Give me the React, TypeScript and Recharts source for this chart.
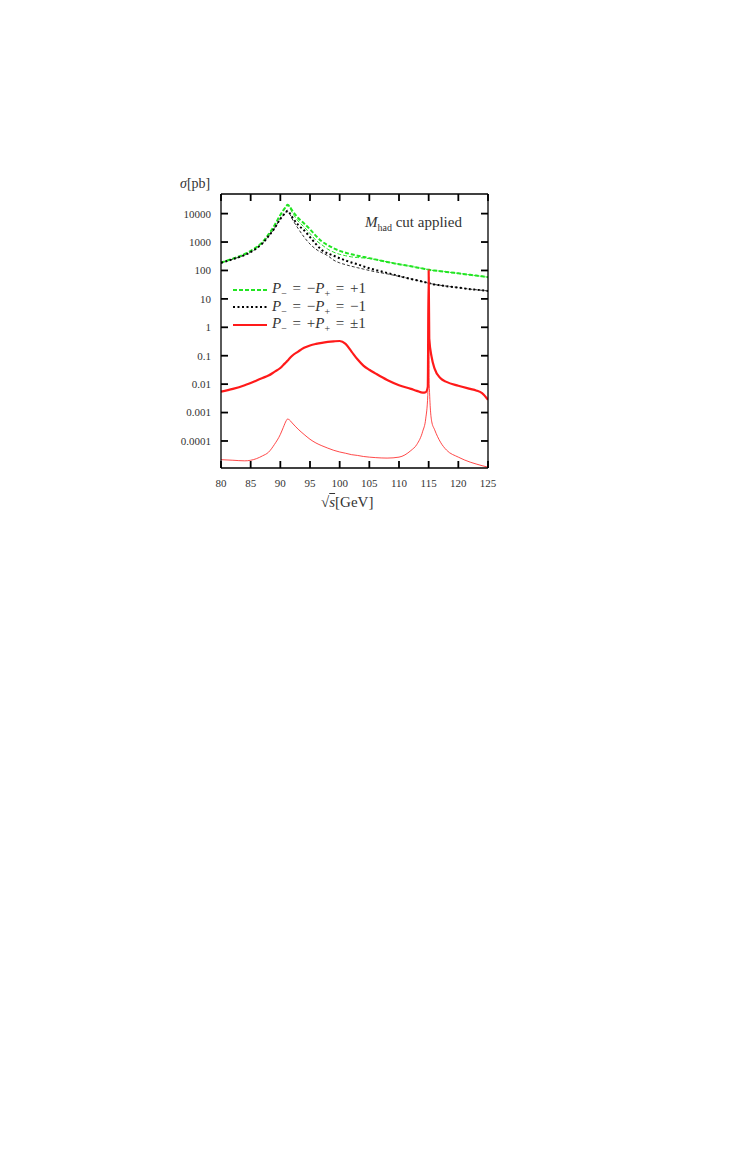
import { LineChart, Line, XAxis, YAxis, Legend } from 'recharts';

// sqrt(s) in GeV
const ENERGY = [80, 82, 84, 86, 87, 88, 89, 90, 90.5, 91, 91.2, 91.5, 92, 93, 94, 95, 96, 97, 98, 99, 100, 101, 102, 103, 104, 105, 106, 108, 110, 112, 113, 114, 114.5, 114.85, 115, 115.1, 115.5, 116, 117, 118, 120, 122, 123, 124, 125];

// P- = -P+ = +1, with / without cut
const GREEN_THICK = [190, 260, 380, 660, 1000, 1850, 3800, 9000, 13000, 18000, 20500, 18500, 13000, 7000, 4500, 2800, 1650, 1050, 780, 600, 490, 420, 370, 330, 300, 272, 245, 200, 165, 140, 128, 117, 112, 108, 106, 105, 102, 99, 94, 89, 79, 70, 66, 62, 58];
const GREEN_THIN = [190, 260, 380, 660, 1000, 1850, 3800, 9000, 13000, 18000, 19500, 17500, 11000, 5500, 3400, 2000, 1150, 800, 560, 440, 370, 330, 300, 285, 275, 262, 243, 200, 165, 140, 128, 117, 112, 108, 106, 105, 102, 99, 94, 89, 79, 70, 66, 62, 58];

// P- = -P+ = -1
const BLACK_THICK = [185, 250, 350, 600, 900, 1600, 3000, 6500, 8800, 11500, 12500, 11000, 7500, 4000, 2600, 1500, 850, 520, 400, 330, 270, 225, 190, 165, 140, 120, 105, 82, 64, 50, 45, 40, 38, 36, 35, 35, 34, 32, 30, 28, 25, 22, 21, 20, 19];
const BLACK_THIN = [185, 250, 350, 600, 900, 1600, 3000, 6500, 8800, 11500, 12000, 10500, 6500, 3000, 1500, 850, 560, 420, 330, 230, 185, 160, 140, 125, 112, 100, 90, 76, 62, 50, 45, 40, 38, 36, 35, 35, 34, 32, 30, 28, 25, 22, 21, 20, 19];

// P- = +P+ = +-1
const RED_THICK = [0.0054, 0.0068, 0.0092, 0.0135, 0.0165, 0.02, 0.027, 0.037, 0.047, 0.06, 0.066, 0.078, 0.1, 0.14, 0.19, 0.23, 0.26, 0.285, 0.305, 0.32, 0.33, 0.26, 0.14, 0.075, 0.045, 0.032, 0.024, 0.014, 0.0092, 0.0068, 0.0058, 0.005, 0.0052, 0.008, 100, 0.4, 0.09, 0.035, 0.016, 0.012, 0.0088, 0.0068, 0.006, 0.0048, 0.0028];
const RED_THIN = [2.2e-5, 2.1e-5, 2.0e-5, 2.4e-5, 3e-5, 4e-5, 7.5e-5, 1.7e-4, 3e-4, 5.2e-4, 5.9e-4, 5.6e-4, 4.3e-4, 2.6e-4, 1.7e-4, 1.15e-4, 8.5e-5, 6.8e-5, 5.6e-5, 4.7e-5, 4.1e-5, 3.7e-5, 3.3e-5, 3.1e-5, 2.85e-5, 2.7e-5, 2.6e-5, 2.5e-5, 2.7e-5, 4.6e-5, 7.5e-5, 2.2e-4, 6e-4, 4e-3, 60, 0.01, 5e-4, 2.5e-4, 9e-5, 4.8e-5, 2.7e-5, 1.8e-5, 1.55e-5, 1.35e-5, 1.2e-5];

const X_TICKS = [80, 85, 90, 95, 100, 105, 110, 115, 120, 125];
const Y_TICKS = [0.0001, 0.001, 0.01, 0.1, 1, 10, 100, 1000, 10000];
const Y_LABELS = ['0.0001', '0.001', '0.01', '0.1', '1', '10', '100', '1000', '10000'];

const X_DOMAIN: [number, number] = [80, 125];
const Y_DOMAIN: [number, number] = [1.12e-5, 4.9e4];

const GREEN = '#22e522';
const RED = '#ff1a1a';
const SERIF = '"Liberation Serif", "DejaVu Serif", serif';

const W = 737;
const H = 540;
const M = { top: 185, right: 256, bottom: 40, left: 153 };

const data = ENERGY.map((x, i) => ({
    x,
    gT: GREEN_THICK[i],
    gN: GREEN_THIN[i],
    bT: BLACK_THICK[i],
    bN: BLACK_THIN[i],
    rT: RED_THICK[i],
    rN: RED_THIN[i],
}));

const yLabel = (v: number) => {
    const i = Y_TICKS.findIndex(t => Math.abs(t - v) / t < 1e-6);
    return i >= 0 ? Y_LABELS[i] : '';
};

const tickStyle = { fontFamily: SERIF, fontSize: 11, fill: '#333' };
const inward = { stroke: '#000', strokeWidth: 1.8 };

const legendRows = [
    { key: 'gT', color: GREEN, dash: '4 2', sign1: '−', value: '+1' },
    { key: 'bT', color: '#000', dash: '2 2.5', sign1: '−', value: '−1' },
    { key: 'rT', color: RED, dash: undefined, sign1: '+', value: '±1' },
];

function LegendBox() {
    return (
        <div style={{ fontFamily: SERIF, fontSize: 15, color: '#333' }}>
            {legendRows.map(r => (
                <div key={r.key} style={{ display: 'flex', alignItems: 'center', height: 17.5 }}>
                    <svg width={34} height={6} style={{ marginRight: 5 }}>
                        <line x1={0} y1={3} x2={34} y2={3} stroke={r.color} strokeWidth={2} strokeDasharray={r.dash} />
                    </svg>
                    <span style={{ whiteSpace: 'nowrap', wordSpacing: 2 }}>
                        <i>P</i><sub style={{ fontSize: 10 }}>−</sub> = {r.sign1}<i>P</i><sub style={{ fontSize: 10 }}>+</sub> = {r.value}
                    </span>
                </div>
            ))}
        </div>
    );
}

export default function App() {
    return (
        <div style={{ position: 'relative', width: W, height: H }}>
            <LineChart width={W} height={H} data={data} margin={M}>
                {/* labelled axes */}
                <XAxis dataKey="x" type="number" domain={X_DOMAIN} ticks={X_TICKS} allowDataOverflow
                    height={40} tickLine={false} tickMargin={5} tick={tickStyle} stroke="#000" strokeWidth={1.3} />
                <XAxis xAxisId="top" orientation="top" dataKey="x" type="number" domain={X_DOMAIN} ticks={X_TICKS} allowDataOverflow
                    height={1} tick={false} tickLine={false} stroke="#000" strokeWidth={1.3} />
                <YAxis scale="log" type="number" domain={Y_DOMAIN} ticks={Y_TICKS} allowDataOverflow
                    width={60} tickLine={false} tickMargin={4} tickFormatter={yLabel} tick={tickStyle} stroke="#000" strokeWidth={1.3} />
                <YAxis yAxisId="right" orientation="right" scale="log" type="number" domain={Y_DOMAIN} ticks={Y_TICKS} allowDataOverflow
                    width={1} tick={false} tickLine={false} stroke="#000" strokeWidth={1.3} />

                {/* inward tick marks on all four sides */}
                <XAxis xAxisId="tb" dataKey="x" type="number" domain={X_DOMAIN} ticks={X_TICKS} allowDataOverflow
                    mirror axisLine={false} stroke="#000" tickSize={7} tickLine={inward} tickFormatter={() => ''} />
                <XAxis xAxisId="tt" orientation="top" dataKey="x" type="number" domain={X_DOMAIN} ticks={X_TICKS} allowDataOverflow
                    mirror axisLine={false} stroke="#000" tickSize={7} tickLine={inward} tickFormatter={() => ''} />
                <YAxis yAxisId="tl" scale="log" type="number" domain={Y_DOMAIN} ticks={Y_TICKS} allowDataOverflow
                    mirror axisLine={false} stroke="#000" tickSize={7} tickLine={inward} tickFormatter={() => ''} />
                <YAxis yAxisId="tr" orientation="right" scale="log" type="number" domain={Y_DOMAIN} ticks={Y_TICKS} allowDataOverflow
                    mirror axisLine={false} stroke="#000" tickSize={7} tickLine={inward} tickFormatter={() => ''} />

                <Legend
                    layout="vertical"
                    align="center"
                    verticalAlign="middle"
                    content={() => <LegendBox />}
                    wrapperStyle={{ left: 225, top: 273, width: 170, height: 56 }}
                />
                <Line dataKey="gN" type="monotone" stroke={GREEN} strokeWidth={1} strokeDasharray="4 2" dot={false} legendType="none" isAnimationActive={false} />
                <Line dataKey="bN" type="monotone" stroke="#000" strokeWidth={0.8} strokeDasharray="3 2" dot={false} legendType="none" isAnimationActive={false} />
                <Line dataKey="rN" type="monotone" stroke={RED} strokeWidth={0.8} dot={false} legendType="none" isAnimationActive={false} />
                <Line dataKey="gT" type="monotone" stroke={GREEN} strokeWidth={2} strokeDasharray="4 2" dot={false} isAnimationActive={false} />
                <Line dataKey="bT" type="monotone" stroke="#000" strokeWidth={2} strokeDasharray="2 2.5" dot={false} isAnimationActive={false} />
                <Line dataKey="rT" type="monotone" stroke={RED} strokeWidth={2.2} dot={false} isAnimationActive={false} />
            </LineChart>
            <div style={{ position: 'absolute', left: 172, top: 168, fontFamily: SERIF, fontSize: 14, color: '#333' }}>
                <i>σ</i>[pb]
            </div>
            <div style={{ position: 'absolute', left: 357, top: 206, fontFamily: SERIF, fontSize: 15, color: '#333', whiteSpace: 'nowrap' }}>
                <i>M</i><sub style={{ fontSize: 10 }}>had</sub> cut applied
            </div>
            <div style={{ position: 'absolute', left: 313, top: 486, fontFamily: SERIF, fontSize: 15, color: '#333', whiteSpace: 'nowrap' }}>
                √<span style={{ textDecoration: 'overline' }}><i>s</i></span>[GeV]
            </div>
        </div>
    );
}
